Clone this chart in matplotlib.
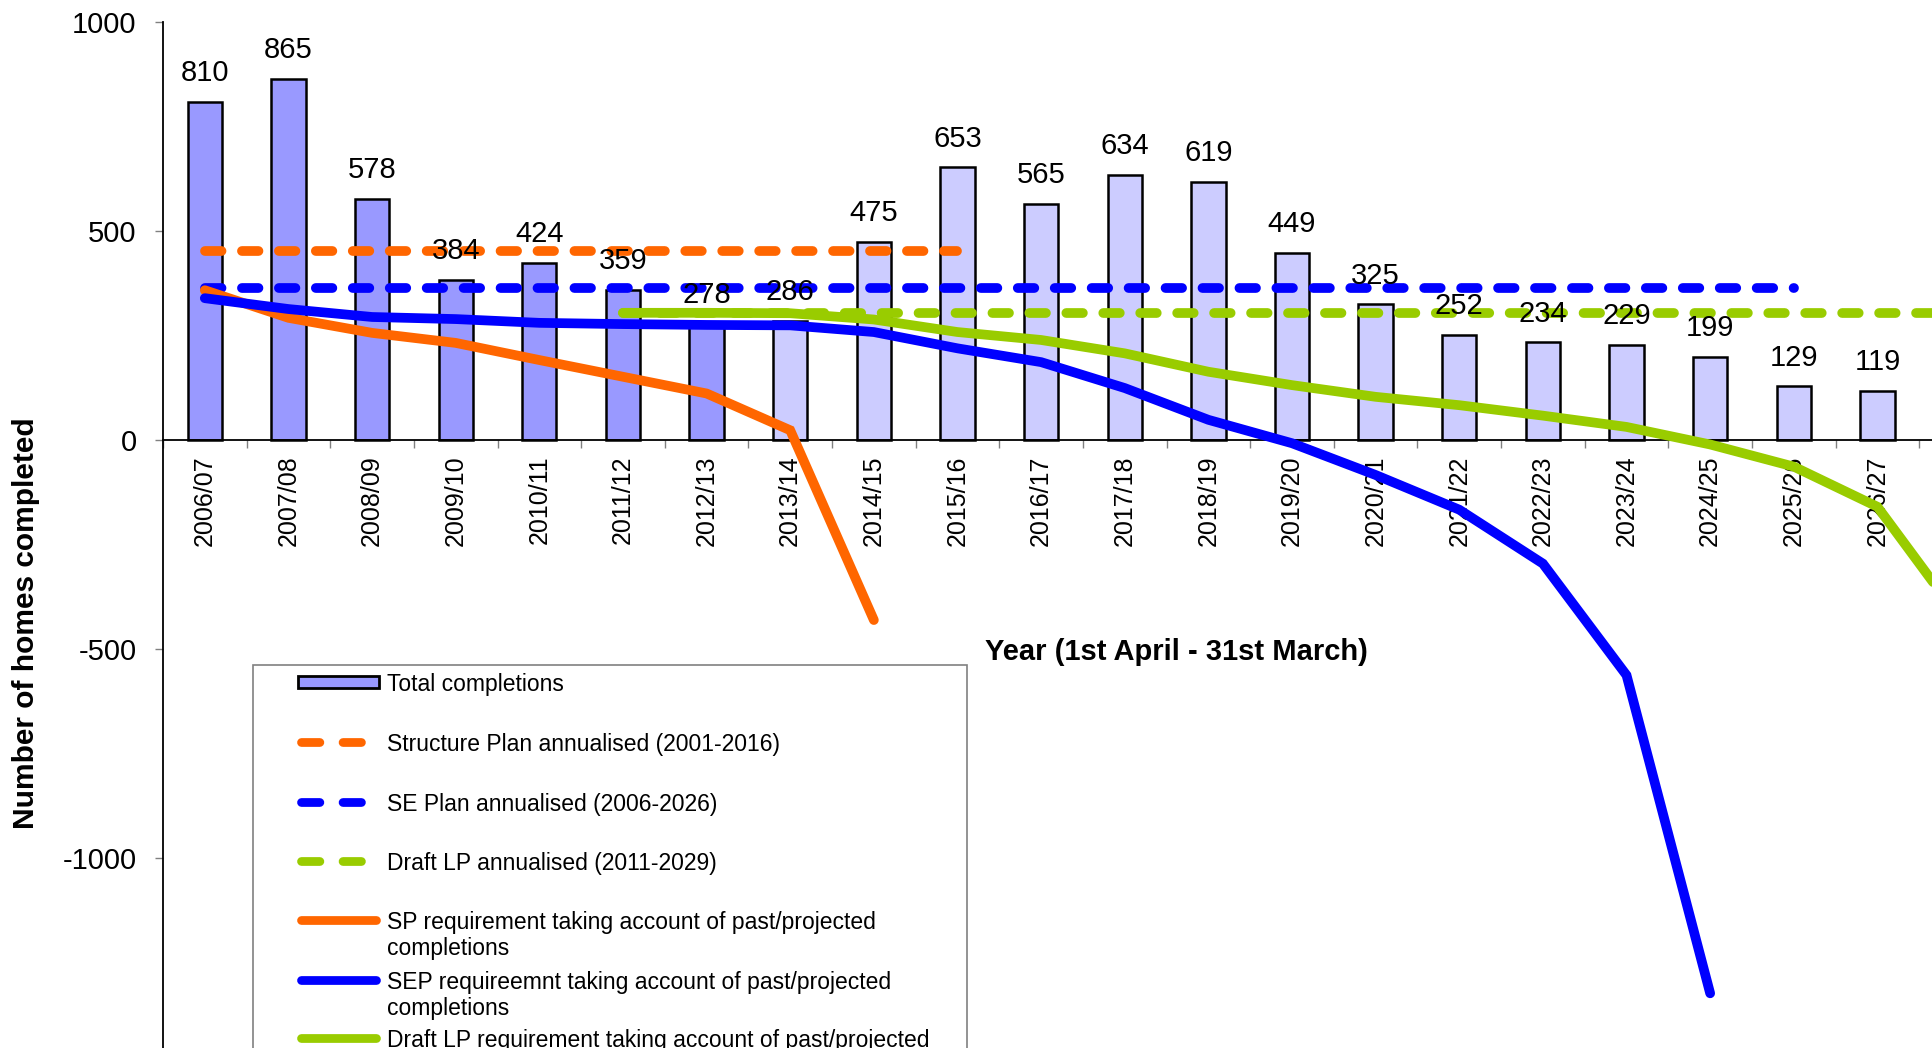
import numpy as np
import matplotlib.pyplot as plt
from matplotlib.lines import Line2D
from matplotlib.patches import Rectangle

plt.rcParams['font.family'] = ['Liberation Sans', 'DejaVu Sans']
plt.rcParams['axes.unicode_minus'] = False

W, H = 1932, 1048

years = ['2006/07', '2007/08', '2008/09', '2009/10', '2010/11', '2011/12', '2012/13',
         '2013/14', '2014/15', '2015/16', '2016/17', '2017/18', '2018/19', '2019/20',
         '2020/21', '2021/22', '2022/23', '2023/24', '2024/25', '2025/26', '2026/27',
         '2027/28', '2028/29']
completions = [810, 865, 578, 384, 424, 359, 278, 286, 475, 653, 565, 634, 619, 449,
               325, 252, 234, 229, 199, 129, 119]
n_past = 7  # 2006/07 - 2012/13 are actual completions

# annualised targets: value, first year, last year
sp_annual = (453, '2006/07', '2015/16')
se_annual = (365, '2006/07', '2025/26')
lp_annual = (305, '2011/12', '2028/29')

# residual requirements, starting year + values
sp_req_start = '2006/07'
sp_req = [359, 293, 257, 233, 192, 152, 112, 24, -430]
sep_req_start = '2006/07'
sep_req = [340, 314, 295, 290, 281, 278, 276, 275, 259, 220, 187, 125, 49, -7, -83,
           -166, -295, -562, -1323]
lp_req_start = '2011/12'
lp_req = [305, 305, 304, 289, 259, 240, 208, 164, 132, 104, 84, 59, 32, -10, -63,
          -159, -430]

ORANGE = '#FF6600'
BLUE = '#0000FF'
GREEN = '#99CC00'
LW = 7
DASH = (1.7, 2.1)

fig = plt.figure(figsize=(W / 100, H / 100), dpi=100)
ax_left, ax_top = 163, 22.3
ax = fig.add_axes([ax_left / W, 0, (W - ax_left) / W, (H - ax_top) / H])

x = np.arange(len(years))
colors = ['#9999FF' if i < n_past else '#CCCCFF' for i in range(len(completions))]
ax.bar(x[:len(completions)], completions, width=0.41, color=colors,
       edgecolor='black', linewidth=1.8, zorder=2)

for i, v in enumerate(completions):
    ax.annotate(str(v), (i, v), xytext=(0, 15), textcoords='offset points',
                ha='center', va='baseline', fontsize=21, zorder=10)


def span(target):
    val, a, b = target
    xs = x[years.index(a):years.index(b) + 1]
    return xs, np.full(len(xs), val)


for target, col in [(sp_annual, ORANGE), (se_annual, BLUE), (lp_annual, GREEN)]:
    xs, ys = span(target)
    ax.plot(xs, ys, color=col, lw=LW, dashes=DASH, dash_capstyle='round', zorder=3)

for start, vals, col in [(sp_req_start, sp_req, ORANGE), (sep_req_start, sep_req, BLUE),
                         (lp_req_start, lp_req, GREEN)]:
    i0 = years.index(start)
    ax.plot(x[i0:i0 + len(vals)], vals, color=col, lw=LW, solid_capstyle='round',
            solid_joinstyle='miter', zorder=4)

# axes styling
ax.spines['top'].set_visible(False)
ax.spines['right'].set_visible(False)
ax.spines['bottom'].set_position(('data', 0))
ax.spines['left'].set_linewidth(1.3)
ax.spines['bottom'].set_linewidth(1.3)

ax.set_xticks(np.arange(-0.5, len(years), 1))
ax.set_xticklabels([])
ax.set_xticks(x, years, minor=True)
ax.tick_params(axis='x', which='major', direction='out', length=5.5, width=1,
               color='#808080')
ax.tick_params(axis='x', which='minor', length=0, pad=11, labelsize=18,
               labelrotation=90)

ax.set_yticks([-1000, -500, 0, 500, 1000])
ax.set_yticklabels(['-1000', '-500', '0', '500', '1000'])
ax.tick_params(axis='y', direction='out', length=6, width=1, color='#808080',
               pad=13, labelsize=21)

# limits last, so the tick calls above do not widen them
cat_px = 83.63
ax.set_xlim(-0.5, -0.5 + (W - ax_left) / cat_px)
ax.set_ylim(-(H - 440.3) / 0.418, 1000)


def fx(px):
    return px / W


def fy(py):
    return 1 - py / H


fig.text(fx(26), fy(623), 'Number of homes completed', rotation=90, ha='center',
         va='center', fontsize=21.5, fontweight='bold')
fig.text(fx(1176), fy(652), 'Year (1st April - 31st March)', ha='center',
         va='center', fontsize=21, fontweight='bold')

# legend (drawn by hand so it can run off the bottom like the original)
fig.add_artist(Rectangle((fx(253), fy(1060)), fx(967) - fx(253), fy(665) - fy(1060),
                         transform=fig.transFigure, facecolor='white',
                         edgecolor='#808080', linewidth=1.2, zorder=5))

legend_rows = [682, 742, 802, 861, 920, 980, 1038]
legend_labels = [
    'Total completions',
    'Structure Plan annualised (2001-2016)',
    'SE Plan annualised (2006-2026)',
    'Draft LP annualised (2011-2029)',
    'SP requirement taking account of past/projected\ncompletions',
    'SEP requireemnt taking account of past/projected\ncompletions',
    'Draft LP requirement taking account of past/projected\ncompletions',
]
legend_styles = [None, (ORANGE, True), (BLUE, True), (GREEN, True),
                 (ORANGE, False), (BLUE, False), (GREEN, False)]

for row, lab, sty in zip(legend_rows, legend_labels, legend_styles):
    if sty is None:
        fig.add_artist(Rectangle((fx(298), fy(row + 6)), fx(379) - fx(298), fy(row - 6) - fy(row + 6),
                                 transform=fig.transFigure, facecolor='#9999FF',
                                 edgecolor='black', linewidth=2, zorder=6))
    else:
        col, dashed = sty
        if dashed:
            ln = Line2D([fx(301.3), fx(374.6)], [fy(row), fy(row)], color=col, lw=6.3,
                        dashes=(2.1, 2.65), dash_capstyle='round',
                        transform=fig.transFigure, zorder=6)
        else:
            ln = Line2D([fx(301), fx(376)], [fy(row), fy(row)], color=col, lw=6.3,
                        solid_capstyle='round', transform=fig.transFigure, zorder=6)
        fig.add_artist(ln)
    fig.text(fx(387), fy(row - 9), lab, ha='left', va='top', fontsize=16.5,
             linespacing=1.17, zorder=7)

fig.savefig('out.png', dpi=100)
